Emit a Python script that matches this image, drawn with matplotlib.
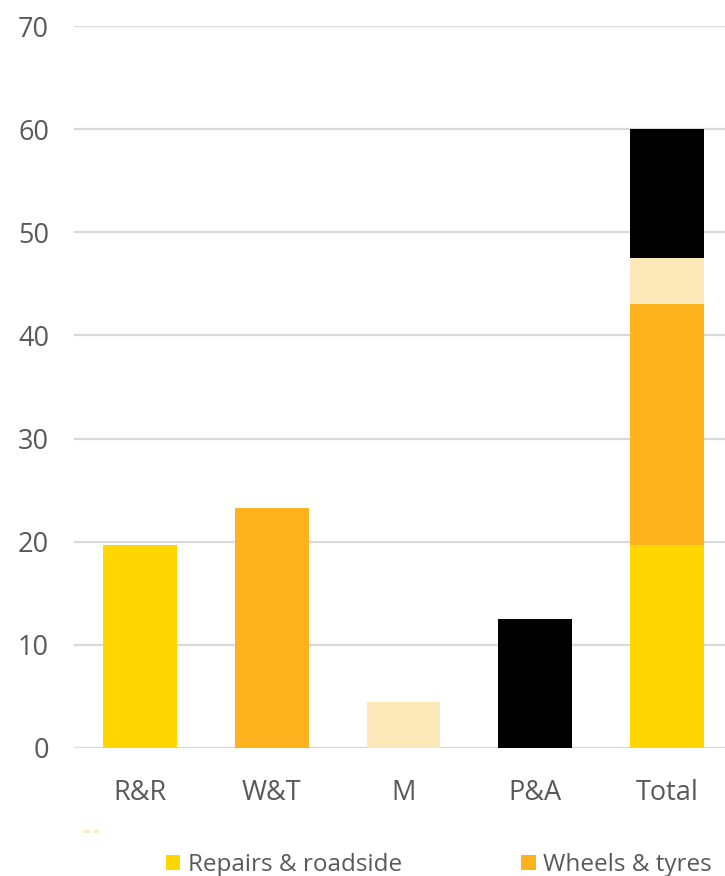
import matplotlib.pyplot as plt
from matplotlib.patches import Patch
from matplotlib.lines import Line2D

# Revenue split by segment, with the total stacked from the segments
categories = ['R&R', 'W&T', 'M', 'P&A', 'Total']
segment_names = ['Repairs & roadside', 'Wheels & tyres', 'M', 'P&A']
segment_values = [19.7, 23.3, 4.5, 12.5]
segment_colors = ['#FFD600', '#FEB21E', '#FDE8BA', '#000000']
y_ticks = [0, 10, 20, 30, 40, 50, 60, 70]

plt.rcParams['font.family'] = ['Open Sans', 'DejaVu Sans']
text_color = '#595959'

fig = plt.figure(figsize=(7.25, 8.76), dpi=100)
ax = fig.add_axes([74 / 725, 1 - 748 / 876, 659 / 725, (748 - 26) / 876])

width = 0.56
# single bars for each segment
for i, (val, col) in enumerate(zip(segment_values, segment_colors)):
    ax.bar(i, val, width=width, color=col, zorder=2)

# stacked total
bottom = 0
for val, col in zip(segment_values, segment_colors):
    ax.bar(len(segment_values), val, bottom=bottom, width=width, color=col, zorder=2)
    bottom += val

ax.set_xlim(-0.5, len(categories) - 0.5)
ax.set_ylim(0, 70)
ax.set_yticks(y_ticks)
ax.set_xticks(range(len(categories)))
ax.set_xticklabels(categories)
ax.yaxis.grid(True, color='#D9D9D9', linewidth=1.6, zorder=0)
ax.set_axisbelow(True)
for s in ax.spines.values():
    s.set_visible(False)
ax.tick_params(axis='both', length=0, labelsize=19.5, colors=text_color)
ax.tick_params(axis='y', pad=18)
ax.tick_params(axis='x', pad=22)

# small dashed stub above the legend
fig.add_artist(Line2D([83 / 725, 98 / 725], [1 - 831 / 876] * 2,
                      color='#FDE8BA', linewidth=2, dash_capstyle='butt',
                      linestyle=(0, (2.3, 1.6))))

# legend: first row only
handles = [Patch(facecolor=c, edgecolor='none') for c in segment_colors[:2]]
leg = fig.legend(handles, segment_names[:2], ncol=2, loc='upper left',
                 bbox_to_anchor=(144 / 725, 1 - 831 / 876), frameon=False,
                 fontsize=17.5, handlelength=0.6, handleheight=0.6,
                 handletextpad=0.3, columnspacing=4.9)
for t in leg.get_texts():
    t.set_color(text_color)

fig.savefig('out.png', dpi=100)
